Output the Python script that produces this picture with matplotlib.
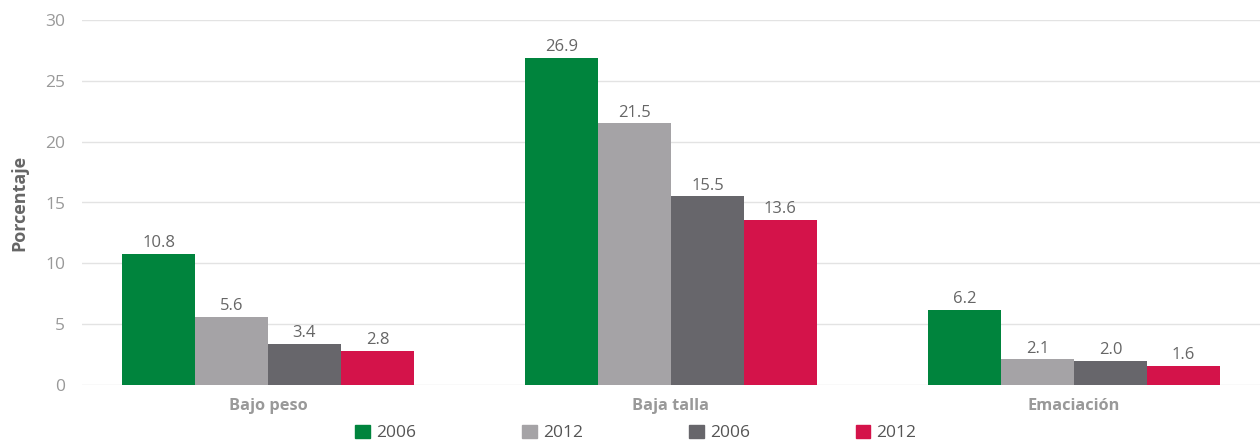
import numpy as np
import matplotlib.pyplot as plt
from matplotlib.patches import Patch

plt.rcParams['font.family'] = ['Open Sans', 'DejaVu Sans']

categorias = ['Bajo peso', 'Baja talla', 'Emaciación']
series = ['2006', '2012', '2006', '2012']
valores = [
    [10.8, 26.9, 6.2],
    [5.6, 21.5, 2.1],
    [3.4, 15.5, 2.0],
    [2.8, 13.6, 1.6],
]
colores = ['#00843D', '#A5A3A6', '#67666B', '#D4134A']

fig = plt.figure(figsize=(12.6, 4.4), dpi=100)
ax = fig.add_axes([82 / 1260, 55 / 440, 1 - 82 / 1260, 365 / 440])

x = np.arange(len(categorias))
w = 0.181
for i, (vals, c) in enumerate(zip(valores, colores)):
    pos = x + (i - 1.5) * w
    bars = ax.bar(pos, vals, width=w, color=c, zorder=2)
    for b, v in zip(bars, vals):
        ax.annotate(f'{v:.1f}', (b.get_x() + b.get_width() / 2, v),
                    xytext=(0, 2), textcoords='offset points',
                    ha='center', va='bottom', fontsize=12, color='#666666')

ax.set_xlim(-0.4615, 2.4615)
ax.set_ylim(0, 30)
ax.set_yticks(range(0, 31, 5))
ax.yaxis.grid(True, color='#e3e3e3', lw=1, zorder=0)
ax.tick_params(axis='y', length=0, pad=12, labelsize=12.5, labelcolor='#999999')
ax.tick_params(axis='x', length=0, pad=9, labelsize=11.8, labelcolor='#999999')
ax.set_xticks(x)
ax.set_xticklabels(categorias, fontweight='bold')
for s in ax.spines.values():
    s.set_visible(False)
ax.set_ylabel('Porcentaje', fontsize=13, fontweight='bold', color='#666666', labelpad=12)

handles = [Patch(color=c, label=s) for c, s in zip(colores, series)]
fig.legend(handles=handles, loc='center', bbox_to_anchor=(636 / 1260, 1 - 433 / 440),
           ncol=4, frameon=False, fontsize=12.5, handlelength=0.85, handleheight=0.85,
           handletextpad=0.35, columnspacing=6.1, labelcolor='#555555')

fig.savefig('out.png', dpi=100)
